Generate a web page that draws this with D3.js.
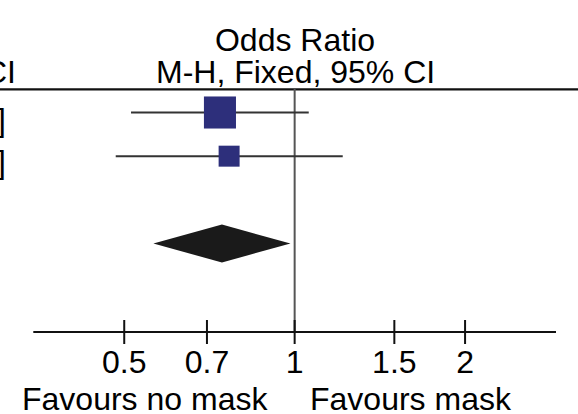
<!DOCTYPE html>
<html>
<head>
<meta charset="utf-8">
<script src="https://cdn.jsdelivr.net/npm/d3@7"></script>
<style>
  body { margin: 0; background: #fff; }
  svg { display: block; font-family: "Liberation Sans", Arial, sans-serif; }
</style>
</head>
<body>
<div id="chart"></div>
<script>
const width = 578
const height = 414

// study rows (the study names sit left of the crop)
const oddsRatio = [0.738, 0.766]
const lower = [0.514, 0.483]
const upper = [1.059, 1.216]
const weights = [70, 30]
const rowLabels = ['0.74 [0.51, 1.06]', '0.77 [0.48, 1.22]']

// pooled estimate (diamond)
const total = {or: 0.744, lo: 0.563, hi: 0.983}

const ticks = [0.5, 0.7, 1, 1.5, 2]
const tickLabels = ['0.5', '0.7', '1', '1.5', '2']

const fontSize = 32

let x = d3.scaleLog().domain([1 / 2.895, 2.895]).range([33.3, 556])
let y = d3.scaleLinear().domain([0, 3]).range([112.5, 243.5])   // row index -> y
let textY = d3.scaleLinear().domain([0, 1]).range([131, 173])   // baselines of the value column
let size = d3.scaleSqrt().domain([0, 100]).range([0, 38.3])

let svg = d3.select('#chart')
    .append('svg')
    .attr('width', width)
    .attr('height', height)
    .attr('font-size', fontSize)

svg.append('rect').attr('width', width).attr('height', height).attr('fill', '#fff')

// headers
svg.append('text')
    .attr('x', 295).attr('y', 51)
    .attr('text-anchor', 'middle')
    .text('Odds Ratio')

svg.append('text')
    .attr('x', 156).attr('y', 82.5)
    .text('M-H, Fixed, 95% CI')

// cut off header of the previous column
svg.append('text')
    .attr('x', 16).attr('y', 82.5)
    .attr('text-anchor', 'end')
    .text('M-H, Fixed, 95% CI')

svg.append('line')
    .attr('x1', 0).attr('x2', width)
    .attr('y1', 89.3).attr('y2', 89.3)
    .attr('stroke', '#111')
    .attr('stroke-width', 2.2)

// cut off values of the previous column
svg.append('g')
    .selectAll('text')
    .data(rowLabels)
    .join('text')
    .attr('x', 6)
    .attr('y', (d, i) => textY(i))
    .attr('text-anchor', 'end')
    .text(d => d)

// line of no effect
svg.append('line')
    .attr('x1', x(1)).attr('x2', x(1))
    .attr('y1', 89).attr('y2', 332)
    .attr('stroke', '#555')
    .attr('stroke-width', 2)

// confidence intervals
svg.append('g')
    .attr('stroke', '#333')
    .attr('stroke-width', 2)
    .selectAll('line')
    .data(oddsRatio)
    .join('line')
    .attr('x1', (d, i) => x(lower[i]))
    .attr('x2', (d, i) => x(upper[i]))
    .attr('y1', (d, i) => y(i))
    .attr('y2', (d, i) => y(i))

// squares sized by weight
svg.append('g')
    .attr('fill', '#2d2f7b')
    .selectAll('rect')
    .data(oddsRatio)
    .join('rect')
    .attr('x', (d, i) => x(d) - size(weights[i]) / 2)
    .attr('y', (d, i) => y(i) - size(weights[i]) / 2)
    .attr('width', (d, i) => size(weights[i]))
    .attr('height', (d, i) => size(weights[i]))

// pooled diamond
let dy = y(3)
let dh = 19
svg.append('path')
    .attr('d', `M${x(total.lo)},${dy} L${x(total.or)},${dy - dh} L${x(total.hi)},${dy} L${x(total.or)},${dy + dh} Z`)
    .attr('fill', '#1a1a1a')

// axis
let axisY = 332
let axis = svg.append('g')
    .attr('transform', `translate(0,${axisY})`)

axis.append('line')
    .attr('x1', x.range()[0]).attr('x2', x.range()[1])
    .attr('stroke', '#111')
    .attr('stroke-width', 2)

axis.selectAll('.tick')
    .data(ticks)
    .join('line')
    .attr('class', 'tick')
    .attr('x1', d => x(d)).attr('x2', d => x(d))
    .attr('y1', -12).attr('y2', 12)
    .attr('stroke', '#111')
    .attr('stroke-width', 2)

axis.selectAll('.tl')
    .data(ticks)
    .join('text')
    .attr('class', 'tl')
    .attr('x', d => x(d))
    .attr('y', 41)
    .attr('text-anchor', 'middle')
    .text((d, i) => tickLabels[i])

svg.append('text')
    .attr('x', 22).attr('y', 410)
    .text('Favours no mask')

svg.append('text')
    .attr('x', 310).attr('y', 410)
    .text('Favours mask')
</script>
</body>
</html>
